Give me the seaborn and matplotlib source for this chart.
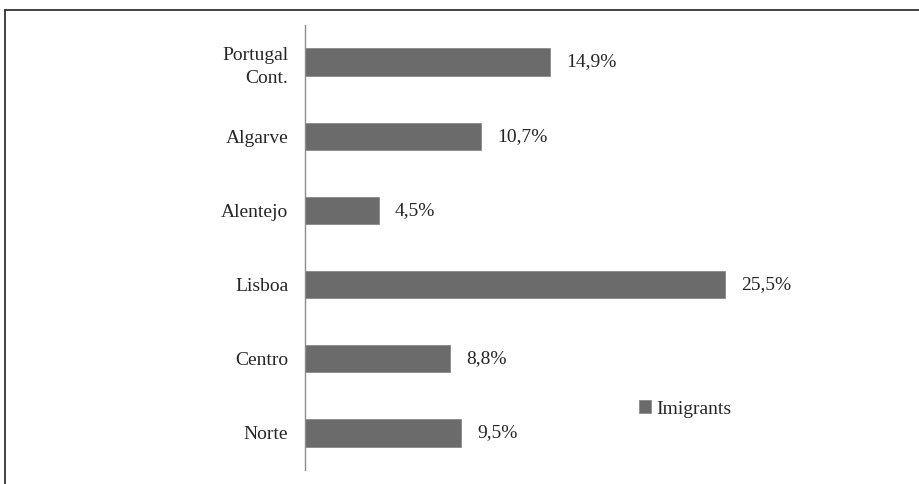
import matplotlib
matplotlib.use('Agg')
import matplotlib.pyplot as plt
from matplotlib.lines import Line2D
import pandas as pd
import seaborn as sns

# data, top to bottom as shown
regions = ['Portugal\nCont.', 'Algarve', 'Alentejo', 'Lisboa', 'Centro', 'Norte']
imigrants = [14.9, 10.7, 4.5, 25.5, 8.8, 9.5]
series_name = 'Imigrants'

BAR_COLOR = '#6b6b6b'
FONT_SIZE = 14


def main():
    sns.set_style('white')
    plt.rcParams['font.family'] = ['Liberation Serif', 'DejaVu Serif']

    df = pd.DataFrame({'region': regions, 'value': imigrants})

    fig = plt.figure(figsize=(9.19, 4.84), dpi=100)
    ax = fig.add_axes([305 / 919, 1 - 470 / 484, 576 / 919, 445 / 484])

    sns.barplot(data=df, x='value', y='region', orient='h', order=regions,
                color=BAR_COLOR, saturation=1, width=0.37,
                edgecolor='#8a8a8a', linewidth=0.6, label=series_name, ax=ax)

    ax.bar_label(ax.containers[0],
                 labels=[f"{v:.1f}%".replace('.', ',') for v in imigrants],
                 padding=11.5, fontsize=FONT_SIZE)

    ax.set_xlim(0, 35)
    ax.set_ylim(len(regions) - 0.5, -0.5)
    ax.set_xlabel('')
    ax.set_ylabel('')
    ax.set_xticks([])
    for side in ['top', 'right', 'bottom']:
        ax.spines[side].set_visible(False)
    ax.spines['left'].set_color('#8c8c8c')
    ax.spines['left'].set_linewidth(1.0)
    ax.tick_params(axis='y', length=0, pad=12, labelsize=FONT_SIZE)
    for lab in ax.get_yticklabels():
        lab.set_horizontalalignment('right')
        lab.set_multialignment('right')
        lab.set_linespacing(1.45)

    ax.legend(loc='center left', bbox_to_anchor=(639 / 919, 1 - 409 / 484),
              bbox_transform=fig.transFigure, frameon=False, fontsize=FONT_SIZE,
              handlelength=0.6, handleheight=0.6, handletextpad=0.3,
              borderpad=0, borderaxespad=0)

    # partial outer frame (top and left only)
    top = 1 - 10 / 484
    left = 5 / 919
    fig.add_artist(Line2D([left, 1], [top, top], transform=fig.transFigure,
                          color='#333333', lw=1.3))
    fig.add_artist(Line2D([left, left], [0, top], transform=fig.transFigure,
                          color='#333333', lw=1.3))

    fig.savefig('out.png', dpi=100)


if __name__ == '__main__':
    main()
